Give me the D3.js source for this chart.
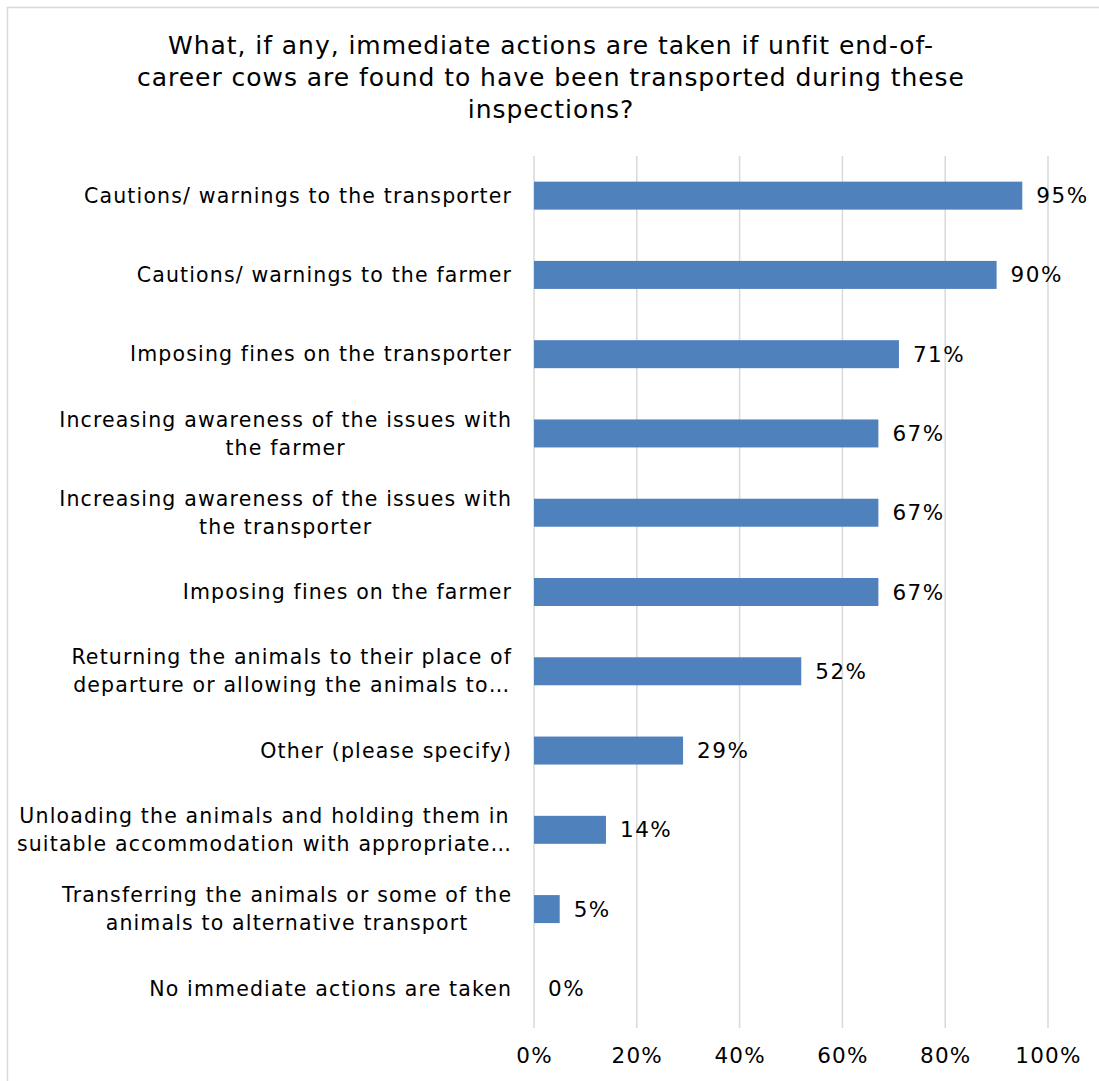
<!DOCTYPE html>
<html>
<head>
<meta charset="utf-8">
<script src="https://cdn.jsdelivr.net/npm/d3@7"></script>
<style>
  html, body { margin: 0; padding: 0; background: #fff; }
  svg { display: block; font-family: "DejaVu Sans", Verdana, sans-serif; }
</style>
</head>
<body>
<svg id="chart" width="1099" height="1081"></svg>
<script>
// Survey responses: share of respondents naming each immediate action
const titleLines = [
  "What, if any, immediate actions are taken if unfit end-of-",
  "career cows are found to have been transported during these",
  "inspections?"
];
const categories = [
  ["Cautions/ warnings to the transporter"],
  ["Cautions/ warnings to the farmer"],
  ["Imposing fines on the transporter"],
  ["Increasing awareness of the issues with", "the farmer"],
  ["Increasing awareness of the issues with", "the transporter"],
  ["Imposing fines on the farmer"],
  ["Returning the animals to their place of", "departure or allowing the animals to\u2026"],
  ["Other (please specify)"],
  ["Unloading the animals and holding them in", "suitable accommodation with appropriate\u2026"],
  ["Transferring the animals or some of the", "animals to alternative transport"],
  ["No immediate actions are taken"]
];
const values = [0.95, 0.90, 0.71, 0.67, 0.67, 0.67, 0.52, 0.29, 0.14, 0.05, 0.00];
const tickValues = [0, 0.2, 0.4, 0.6, 0.8, 1.0];

const svg = d3.select("#chart");
const plot = { left: 534, right: 1048, top: 156, bottom: 1028 };
const labelSpacing = 1.15;
const labelRight = 511;

// Outer frame
svg.append("rect")
  .attr("x", 7.5).attr("y", 7.5)
  .attr("width", 1099).attr("height", 1081)
  .attr("fill", "none").attr("stroke", "#d9d9d9").attr("stroke-width", 1.5);

// Title
svg.append("g").selectAll("text").data(titleLines).join("text")
  .attr("x", 551).attr("y", (d, i) => 54 + i * 32)
  .attr("text-anchor", "middle")
  .attr("font-size", 25).attr("letter-spacing", 0.95).attr("fill", "#000")
  .text(d => d);

const x = d3.scaleLinear().domain([0, 1]).range([plot.left, plot.right]);
const idx = categories.map((d, i) => i);
const y = d3.scaleBand().domain(idx).range([plot.top, plot.bottom]).paddingInner(0.647).paddingOuter(0.3235);

// Vertical gridlines
svg.append("g").selectAll("line").data(tickValues).join("line")
  .attr("x1", d => x(d)).attr("x2", d => x(d))
  .attr("y1", plot.top).attr("y2", plot.bottom)
  .attr("stroke", "#d9d9d9").attr("stroke-width", 1.5);

// X axis tick labels
const xAxis = d3.axisBottom(x).tickValues(tickValues).tickFormat(d3.format(".0%")).tickSize(0).tickPadding(20);
const gx = svg.append("g").attr("transform", `translate(0,${plot.bottom})`).call(xAxis);
gx.select(".domain").remove();
gx.selectAll("text").attr("font-size", 21.5).attr("letter-spacing", 1.2).attr("fill", "#000")
  .attr("font-family", "DejaVu Sans, Verdana, sans-serif");

// Bars
svg.append("g").selectAll("rect").data(values).join("rect")
  .attr("x", x(0))
  .attr("y", (d, i) => y(i))
  .attr("width", d => x(d) - x(0))
  .attr("height", y.bandwidth())
  .attr("fill", "#4f81bd");

// Value labels
svg.append("g").selectAll("text").data(values).join("text")
  .attr("x", d => x(d) + 14)
  .attr("y", (d, i) => y(i) + y.bandwidth() / 2)
  .attr("dy", "0.35em")
  .attr("font-size", 21.5).attr("letter-spacing", 1.5).attr("fill", "#000")
  .text(d => d3.format(".0%")(d));

// Category labels: each block sits flush against the axis, its lines centred within the block
const lab = svg.append("g").selectAll("text").data(categories).join("text")
  .attr("text-anchor", "middle")
  .attr("font-size", 20.5).attr("letter-spacing", labelSpacing).attr("fill", "#000");
lab.selectAll("tspan").data(d => d.map((t, j) => ({ t, j, n: d.length }))).join("tspan")
  .attr("x", 0)
  .attr("y", d => (d.j - (d.n - 1) / 2) * 28)
  .attr("dy", "0.35em")
  .text(d => d.t);
lab.each(function(d, i) {
  let w = 0;
  d3.select(this).selectAll("tspan").each(function() {
    w = Math.max(w, this.getComputedTextLength());
  });
  const cx = labelRight + labelSpacing - w / 2;
  d3.select(this).attr("transform", `translate(${cx},${y(i) + y.bandwidth() / 2})`);
});
</script>
</body>
</html>
